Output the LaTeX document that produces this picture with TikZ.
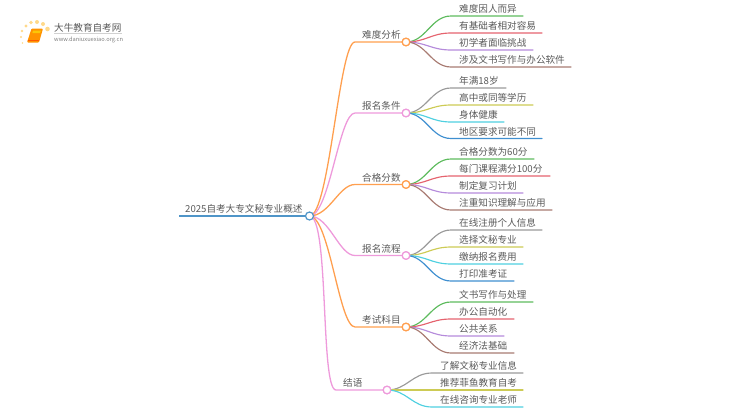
\documentclass[tikz,border=0pt]{standalone}
\usepackage{fontspec}
\setmainfont{Noto Sans CJK SC}
\usetikzlibrary{calc}
\definecolor{corg}{HTML}{FF9F4F}
\definecolor{cpnk}{HTML}{EE9ADB}
\definecolor{crt}{HTML}{4F95C8}
\definecolor{cgrn}{HTML}{5DBB5D}
\definecolor{cred}{HTML}{E5636E}
\definecolor{cpur}{HTML}{B58BDB}
\definecolor{cbrn}{HTML}{A87B72}
\definecolor{cgry}{HTML}{9A9A9A}
\definecolor{coli}{HTML}{CDCB55}
\definecolor{ccyn}{HTML}{4FD0E0}
\definecolor{cblu}{HTML}{3F8FD0}
\definecolor{ctxt}{HTML}{5A5A5A}
\definecolor{csun}{HTML}{FFD98A}
\tikzset{
  txt/.style={inner sep=0pt,anchor=base west,text=ctxt,font=\fontsize{9.6}{10}\selectfont},
  dotnode/.style={circle,draw=#1,fill=white,line width=1.2pt,minimum size=7.6pt,inner sep=0pt},
  edgeline/.style={line width=#1,line cap=round},
}
\newcommand{\branch}[5]{% name, y, x of dot, colour, text
  \coordinate (#1s) at (#3-51,#2);
  \node[dotnode=#4] (#1d) at (#3,#2) {};
  \draw[edgeline=1.3pt,#4] (rootdot.center) .. controls ($(rootdot.center)+(20,0)$) and ($(#1s)+(-16,0)$) .. (#1s) -- (#1d.center);
  \node[txt] (#1t) at (#3-44,#2-3.3) {#5};
}
\newcommand{\leaf}[7]{% name,parent,y,xstart,xend,colour,text
  \coordinate (#1s) at (#4,#3);
  \coordinate (#1e) at (#5,#3);
  \draw[edgeline=1.15pt,#6] (#2.center) .. controls ($(#2.center)+(20,0)$) and ($(#1s)+(-20,0)$) .. (#1s) -- (#1e);
  \node[txt] (#1t) at (#4+8,#3-3.3) {#7};
}
\begin{document}
\begin{tikzpicture}[x=1pt,y=-1pt]
\useasboundingbox (0,0) rectangle (750,410);
% logo
\foreach \a/\b/\r in {26/26/1.7,31/22.5/1.9,37/22/2,43/24/2,47.5/29/2.3,22/31/1.4,21/37/1.1,22.5/43/.9}
  \fill[csun] (\a,\b) circle (\r);
\fill[orange!85!yellow,rounded corners=1pt] (31.5,28.5) -- (43,28.5) -- (39,42.5) -- (27,42.5) -- cycle;
\fill[yellow!60!orange] (33,30.5) -- (41,30.5) -- (40,33) -- (32.3,33) -- cycle;
\draw[orange!70!red,line width=.8pt] (27.5,40.8) -- (39,40.8);
\node[inner sep=0pt,anchor=base west,text=black!65,font=\fontsize{9.6}{10}\selectfont] (logot) at (54,31) {大牛教育自考网};
\node[inner sep=0pt,anchor=base west,text=black!50,font=\fontsize{5.7}{6}\selectfont] (logou) at (54,41) {www.daniuxuexiao.org.cn};
\draw[black!18,line width=.6pt] (54,33.5) -- (122,33.5);
% root
\coordinate (roots) at (179,216);
\coordinate (rootdot) at (309.5,216);
% branches
\branch{a}{42}{406}{corg}{难度分析}
\branch{b}{113}{406}{cpnk}{报名条件}
\branch{c}{184.5}{406}{corg}{合格分数}
\branch{d}{255.5}{406}{cpnk}{报名流程}
\branch{e}{327}{406}{corg}{考试科目}
\branch{f}{390}{387}{cpnk}{结语}
\draw[edgeline=1.8pt,crt,line cap=butt] (roots) -- (rootdot);
\node[txt] (roott) at (185,212.7) {2025自考大专文秘专业概述};
\node[dotnode=crt,minimum size=8pt] (rootn) at (rootdot) {};
% leaves
\leaf{a1}{ad}{16}{451}{523}{cgrn}{难度因人而异}
\leaf{a2}{ad}{33}{451}{542}{cred}{有基础者相对容易}
\leaf{a3}{ad}{50}{451}{533}{cpur}{初学者面临挑战}
\leaf{a4}{ad}{67}{451}{571}{cbrn}{涉及文书写作与办公软件}
\leaf{b1}{bd}{88}{451}{506}{cgry}{年满18岁}
\leaf{b2}{bd}{105}{451}{533}{coli}{高中或同等学历}
\leaf{b3}{bd}{122}{451}{504}{ccyn}{身体健康}
\leaf{b4}{bd}{138.5}{451}{542}{cblu}{地区要求可能不同}
\leaf{c1}{cd}{159}{451}{534}{cgrn}{合格分数为60分}
\leaf{c2}{cd}{176}{451}{550}{cred}{每门课程满分100分}
\leaf{c3}{cd}{193}{451}{523}{cpur}{制定复习计划}
\leaf{c4}{cd}{210}{451}{552}{cbrn}{注重知识理解与应用}
\leaf{d1}{dd}{230}{451}{542}{cgry}{在线注册个人信息}
\leaf{d2}{dd}{247}{451}{523}{coli}{选择文秘专业}
\leaf{d3}{dd}{264}{451}{523}{ccyn}{缴纳报名费用}
\leaf{d4}{dd}{281}{451}{514}{cblu}{打印准考证}
\leaf{e1}{ed}{302}{451}{533}{cgrn}{文书写作与处理}
\leaf{e2}{ed}{319}{451}{514}{cred}{办公自动化}
\leaf{e3}{ed}{336}{451}{504}{cpur}{公共关系}
\leaf{e4}{ed}{353}{451}{514}{cbrn}{经济法基础}
\leaf{f1}{fd}{373}{432}{523}{cgry}{了解文秘专业信息}
\leaf{f2}{fd}{390}{432}{523}{coli}{推荐菲鱼教育自考}
\leaf{f3}{fd}{407}{432}{523}{ccyn}{在线咨询专业老师}
\foreach \n/\c in {ad/corg,bd/cpnk,cd/corg,dd/cpnk,ed/corg,fd/cpnk}
  \node[dotnode=\c] at (\n) {};
\end{tikzpicture}
\end{document}
